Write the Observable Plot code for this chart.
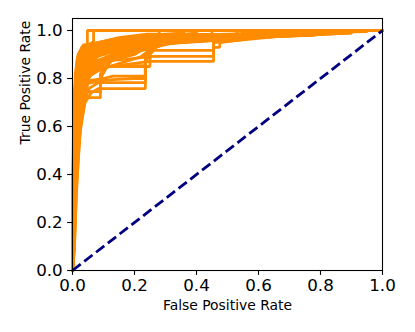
<!DOCTYPE html>
<html>
<head>
<meta charset="utf-8">
<script src="https://cdn.jsdelivr.net/npm/d3@7"></script>
<script src="https://cdn.jsdelivr.net/npm/@observablehq/plot@0.6"></script>
<style>
  html, body { margin: 0; padding: 0; background: #fff; }
  #chart svg { display: block; }
</style>
</head>
<body>
<div id="chart"></div>
<script>
// ROC curves (fpr, tpr)
const rocCurves = [
  [[0,0],[0,0.3],[0.004,0.55],[0.008,0.75],[0.015,0.88],[0.03,0.93],[0.048,0.94],[0.048,1],[1,1]],
  [[0,0],[0.002,0.25],[0.006,0.5],[0.012,0.72],[0.02,0.85],[0.035,0.92],[0.068,0.955],[0.068,1],[1,1]],
  [[0,0],[0.001,0.4],[0.004,0.65],[0.009,0.82],[0.018,0.9],[0.035,0.94],[0.07,0.945],[0.1,0.955],[0.15,0.97],[0.24,0.985],[0.28,0.985],[0.28,1],[1,1]],
  [[0,0],[0.002,0.35],[0.005,0.6],[0.01,0.8],[0.02,0.9],[0.04,0.935],[0.08,0.95],[0.14,0.965],[0.2,0.975],[0.3,0.985],[0.36,0.99],[0.36,1],[1,1]],
  [[0,0],[0.003,0.1],[0.006,0.4],[0.012,0.65],[0.018,0.8],[0.03,0.9],[0.05,0.93],[0.1,0.945],[0.2,0.96],[0.3,0.965],[0.48,0.975],[0.7,0.99],[0.85,0.995],[0.85,1],[1,1]],
  [[0,0],[0.004,0.15],[0.008,0.35],[0.015,0.6],[0.025,0.8],[0.04,0.88],[0.07,0.92],[0.12,0.94],[0.18,0.95],[0.3,0.96],[0.48,0.97],[0.62,0.985],[0.62,1],[1,1]],
  [[0,0],[0.005,0.1],[0.01,0.3],[0.018,0.55],[0.028,0.72],[0.04,0.82],[0.06,0.88],[0.1,0.91],[0.16,0.935],[0.24,0.945],[0.4,0.955],[0.5,0.967],[0.75,0.98],[0.9,0.99],[0.9,1],[1,1]],
  [[0,0],[0.003,0.05],[0.008,0.25],[0.014,0.45],[0.022,0.65],[0.032,0.78],[0.05,0.86],[0.08,0.9],[0.14,0.925],[0.2,0.94],[0.3,0.955],[0.45,0.97],[0.55,0.975],[0.55,1],[1,1]],
  [[0,0],[0.006,0.08],[0.012,0.3],[0.02,0.5],[0.03,0.68],[0.045,0.78],[0.07,0.85],[0.1,0.88],[0.15,0.9],[0.19,0.93],[0.3,0.945],[0.42,0.955],[0.6,0.97],[0.7,0.98],[0.7,1],[1,1]],
  [[0,0],[0.002,0.2],[0.005,0.45],[0.011,0.7],[0.02,0.82],[0.035,0.87],[0.06,0.9],[0.09,0.92],[0.13,0.94],[0.18,0.955],[0.25,0.965],[0.4,0.975],[0.55,0.985],[0.55,1],[1,1]],
  [[0,0],[0.004,0.3],[0.01,0.58],[0.02,0.78],[0.03,0.86],[0.045,0.9],[0.065,0.93],[0.1,0.945],[0.183,0.955],[0.183,0.97],[0.3,0.975],[0.45,0.98],[0.6,0.99],[0.6,1],[1,1]],
  [[0,0],[0.007,0.2],[0.014,0.45],[0.024,0.65],[0.035,0.75],[0.05,0.8],[0.075,0.84],[0.11,0.87],[0.15,0.9],[0.2,0.92],[0.25,0.94],[0.38,0.955],[0.5,0.97],[0.65,0.98],[0.85,0.99],[0.85,1],[1,1]],
  [[0,0],[0.005,0.12],[0.011,0.38],[0.02,0.6],[0.033,0.74],[0.048,0.8],[0.07,0.83],[0.1,0.86],[0.14,0.88],[0.2,0.9],[0.25,0.94],[0.35,0.95],[0.5,0.965],[0.65,0.975],[0.65,1],[1,1]],
  [[0,0],[0.003,0.25],[0.007,0.55],[0.013,0.75],[0.022,0.85],[0.035,0.9],[0.055,0.92],[0.09,0.935],[0.13,0.945],[0.2,0.96],[0.3,0.97],[0.4,0.98],[0.7,0.99],[0.95,0.995],[0.95,1],[1,1]],
  [[0,0],[0.004,0.2],[0.009,0.48],[0.017,0.7],[0.027,0.82],[0.042,0.875],[0.065,0.905],[0.095,0.925],[0.14,0.94],[0.21,0.955],[0.32,0.965],[0.48,0.975],[0.68,0.99],[0.68,1],[1,1]],
  [[0,0],[0.005,0.18],[0.012,0.5],[0.022,0.7],[0.033,0.8],[0.05,0.84],[0.08,0.86],[0.11,0.89],[0.16,0.91],[0.22,0.93],[0.26,0.945],[0.4,0.96],[0.5,0.97],[0.75,0.985],[0.75,1],[1,1]],
  [[0,0],[0.003,0.15],[0.007,0.42],[0.014,0.62],[0.024,0.76],[0.038,0.83],[0.055,0.87],[0.085,0.895],[0.12,0.91],[0.17,0.92],[0.23,0.935],[0.3,0.95],[0.45,0.96],[0.6,0.975],[0.8,0.985],[0.8,1],[1,1]],
  [[0,0],[0.006,0.15],[0.013,0.42],[0.023,0.62],[0.036,0.74],[0.055,0.81],[0.08,0.83],[0.12,0.85],[0.17,0.87],[0.22,0.89],[0.25,0.92],[0.3,0.945],[0.48,0.967],[0.75,0.98],[0.9,0.99],[0.9,1],[1,1]],
  [[0,0],[0.002,0.3],[0.006,0.58],[0.012,0.78],[0.022,0.87],[0.04,0.91],[0.065,0.935],[0.11,0.95],[0.16,0.96],[0.22,0.97],[0.27,0.98],[0.45,0.985],[0.45,1],[1,1]],
  [[0,0],[0.004,0.22],[0.009,0.5],[0.018,0.72],[0.028,0.8],[0.045,0.85],[0.06,0.87],[0.09,0.88],[0.13,0.9],[0.19,0.915],[0.24,0.93],[0.3,0.955],[0.52,0.97],[0.78,0.98],[0.78,1],[1,1]],
  [[0,0],[0.005,0.2],[0.01,0.45],[0.019,0.66],[0.03,0.77],[0.045,0.82],[0.065,0.85],[0.095,0.87],[0.14,0.895],[0.2,0.91],[0.25,0.925],[0.33,0.95],[0.47,0.965],[0.62,0.98],[0.62,1],[1,1]],
  [[0,0],[0.003,0.2],[0.008,0.5],[0.015,0.72],[0.025,0.84],[0.04,0.89],[0.07,0.915],[0.1,0.93],[0.15,0.945],[0.2,0.95],[0.27,0.96],[0.35,0.97],[0.45,0.975],[0.58,0.98],[0.58,1],[1,1]],
  [[0,0],[0.004,0.25],[0.009,0.55],[0.016,0.74],[0.026,0.83],[0.045,0.87],[0.075,0.89],[0.11,0.905],[0.16,0.92],[0.22,0.945],[0.3,0.96],[0.38,0.965],[0.5,0.975],[0.72,0.985],[0.72,1],[1,1]],
  [[0,0],[0.002,0.15],[0.006,0.48],[0.013,0.72],[0.024,0.82],[0.04,0.86],[0.06,0.89],[0.1,0.9],[0.14,0.92],[0.19,0.94],[0.25,0.955],[0.35,0.96],[0.46,0.97],[0.6,0.98],[0.88,0.99],[0.88,1],[1,1]],
  [[0,0],[0.005,0.22],[0.011,0.52],[0.02,0.7],[0.03,0.79],[0.042,0.84],[0.06,0.86],[0.09,0.875],[0.13,0.885],[0.18,0.9],[0.23,0.92],[0.28,0.95],[0.4,0.965],[0.55,0.975],[0.7,0.985],[0.7,1],[1,1]],
  [[0,0],[0.001,0.3],[0.004,0.55],[0.008,0.76],[0.016,0.86],[0.03,0.91],[0.05,0.93],[0.085,0.94],[0.12,0.96],[0.19,0.97],[0.26,0.975],[0.33,0.98],[0.4,0.99],[0.4,1],[1,1]],
  [[0,0],[0.006,0.2],[0.012,0.45],[0.021,0.64],[0.03,0.74],[0.042,0.8],[0.058,0.83],[0.08,0.85],[0.1,0.875],[0.13,0.9],[0.17,0.93],[0.23,0.95],[0.32,0.96],[0.42,0.97],[0.53,0.98],[0.53,1],[1,1]],
  [[0,0],[0.003,0.18],[0.008,0.44],[0.016,0.66],[0.026,0.78],[0.04,0.84],[0.055,0.88],[0.08,0.905],[0.12,0.925],[0.17,0.94],[0.24,0.96],[0.29,0.97],[0.38,0.98],[0.5,0.985],[0.66,0.99],[0.66,1],[1,1]],
  [[0,0],[0.006,0.12],[0.012,0.36],[0.022,0.58],[0.034,0.7],[0.05,0.78],[0.09,0.79],[0.13,0.795],[0.2,0.8],[0.235,0.8],[0.235,0.88],[0.27,0.945],[0.5,0.97],[0.7,0.98],[0.7,1],[1,1]],
  [[0,0],[0.004,0.1],[0.01,0.3],[0.018,0.5],[0.028,0.62],[0.04,0.7],[0.05,0.72],[0.09,0.72],[0.09,0.8],[0.12,0.87],[0.2,0.92],[0.25,0.945],[0.5,0.97],[0.7,0.985],[0.7,1],[1,1]],
  [[0,0],[0.005,0.15],[0.012,0.4],[0.022,0.6],[0.035,0.7],[0.05,0.745],[0.09,0.745],[0.09,0.82],[0.13,0.88],[0.22,0.93],[0.4,0.96],[0.6,0.98],[0.6,1],[1,1]],
  [[0,0],[0.006,0.1],[0.013,0.35],[0.025,0.58],[0.04,0.7],[0.06,0.74],[0.084,0.758],[0.235,0.758],[0.235,0.875],[0.26,0.945],[0.4,0.955],[0.6,0.97],[0.8,0.99],[0.8,1],[1,1]],
  [[0,0],[0.004,0.12],[0.01,0.4],[0.02,0.6],[0.035,0.72],[0.055,0.76],[0.084,0.783],[0.235,0.783],[0.235,0.87],[0.25,0.92],[0.3,0.95],[0.6,0.975],[0.6,1],[1,1]],
  [[0,0],[0.003,0.15],[0.008,0.45],[0.016,0.65],[0.03,0.76],[0.05,0.79],[0.1,0.8],[0.13,0.81],[0.235,0.81],[0.235,0.87],[0.25,0.9],[0.28,0.945],[0.5,0.965],[0.7,0.98],[0.7,1],[1,1]],
  [[0,0],[0.002,0.2],[0.007,0.5],[0.014,0.7],[0.025,0.8],[0.05,0.83],[0.1,0.845],[0.13,0.854],[0.235,0.854],[0.235,0.9],[0.26,0.945],[0.45,0.96],[0.65,0.98],[0.65,1],[1,1]],
  [[0,0],[0.003,0.2],[0.009,0.45],[0.018,0.68],[0.03,0.8],[0.06,0.84],[0.15,0.855],[0.25,0.871],[0.455,0.871],[0.455,0.93],[0.475,0.93],[0.475,0.95],[0.6,0.97],[0.8,0.985],[0.8,1],[1,1]],
  [[0,0],[0.002,0.25],[0.006,0.55],[0.012,0.76],[0.022,0.84],[0.05,0.845],[0.12,0.85],[0.25,0.85],[0.25,0.917],[0.455,0.917],[0.455,0.96],[0.65,0.98],[0.9,0.99],[0.9,1],[1,1]],
  [[0,0],[0.004,0.2],[0.01,0.5],[0.02,0.72],[0.035,0.83],[0.07,0.87],[0.17,0.88],[0.26,0.892],[0.455,0.892],[0.455,0.95],[0.7,0.98],[0.7,1],[1,1]]
];
const chanceLine = [[0,0],[1,1]];
const xTicks = [0, 0.2, 0.4, 0.6, 0.8, 1.0];
const yTicks = [0, 0.2, 0.4, 0.6, 0.8, 1.0];
const xLabel = "False Positive Rate";
const yLabel = "True Positive Rate";

const rows = rocCurves.flatMap((c, k) => c.map(([fpr, tpr]) => ({curve: k, fpr, tpr})));
const lw = 2.8;

const chart = Plot.plot({
  width: 415,
  height: 332,
  marginLeft: 72,
  marginRight: 33,
  marginTop: 18,
  marginBottom: 62,
  style: {fontFamily: "DejaVu Sans", background: "#fff", color: "#000"},
  x: {domain: [0, 1]},
  y: {domain: [0, 1.05]},
  marks: [
    Plot.line(rows, {x: "fpr", y: "tpr", z: "curve", stroke: "#ff8c00", strokeWidth: lw, strokeLinejoin: "miter", strokeLinecap: "square"}),
    Plot.line(chanceLine, {x: d => d[0], y: d => d[1], stroke: "navy", strokeWidth: lw, strokeDasharray: "10.4,4.5", strokeLinecap: "butt"}),
    Plot.frame({stroke: "#000", strokeWidth: 1.1}),
    Plot.axisX(xTicks, {tickSize: 4.9, tickPadding: 4, fontSize: 16.7, tickFormat: d3.format(".1f"), label: null, strokeWidth: 1.1}),
    Plot.axisY(yTicks, {tickSize: 4.9, tickPadding: 4.9, fontSize: 16.7, tickFormat: d3.format(".1f"), label: null, strokeWidth: 1.1}),
    Plot.text([xLabel], {frameAnchor: "bottom", dy: 39, fontSize: 13.9, fill: "#000"}),
    Plot.text([yLabel], {frameAnchor: "left", dx: -47, rotate: -90, fontSize: 13.9, fill: "#000"})
  ]
});
document.getElementById("chart").appendChild(chart);
</script>
</body>
</html>
